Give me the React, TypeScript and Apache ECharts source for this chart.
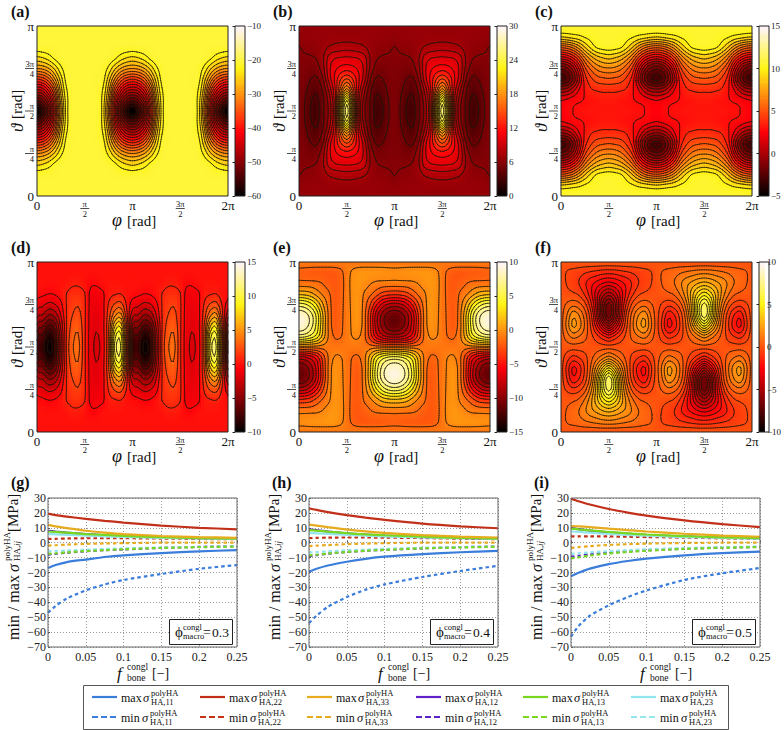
import React, { useEffect, useRef } from "react";
import * as echarts from "echarts";

const SERIF = "'Liberation Serif', serif";

// ---- contour maps: node tables, step pi/16, rows from theta = pi/2 outward, columns from phi = 0 ----
const tableA = [
  [-60, -57, -51, -41, -30.5, -22.5, -20.6, -20.5, -20.5],
  [-54, -52, -47, -39, -29, -22.5, -20.6, -20.5, -20.5],
  [-46, -45, -41, -35, -27, -22, -20.6, -20.5, -20.5],
  [-38, -37, -34.5, -30, -25, -21, -20.6, -20.5, -20.5],
  [-30, -29.5, -28, -25.5, -22.5, -20.8, -20.5, -20.5, -20.5],
  [-24.5, -24, -23, -21.5, -20.7, -20.5, -20.5, -20.5, -20.5],
  [-20.9, -20.8, -20.7, -20.6, -20.5, -20.5, -20.5, -20.5, -20.5],
  [-20.5, -20.5, -20.5, -20.5, -20.5, -20.5, -20.5, -20.5, -20.5],
  [-20.5, -20.5, -20.5, -20.5, -20.5, -20.5, -20.5, -20.5, -20.5],
];
const tableB = [
  [5.6, 4.7, 3.5, 3.0, 4.6, 6.2, 10, 20, 26],
  [5.6, 4.8, 3.7, 3.3, 4.6, 6.5, 10, 18, 24],
  [5.6, 5.1, 4.2, 3.9, 5.0, 7.4, 10.5, 15, 18.5],
  [5.6, 5.4, 4.8, 4.6, 5.9, 8.8, 11, 13.2, 14.5],
  [5.7, 5.6, 5.4, 5.5, 6.8, 9.2, 10.5, 11.2, 11.5],
  [5.85, 5.85, 5.9, 6.1, 7.0, 8.8, 9.5, 9.7, 9.8],
  [5.97, 6.2, 6.3, 6.4, 6.7, 7.3, 7.6, 7.8, 7.9],
  [6.3, 6.5, 6.5, 6.6, 6.6, 6.7, 6.7, 6.7, 6.7],
  [6.6, 6.6, 6.6, 6.6, 6.6, 6.6, 6.6, 6.6, 6.6],
];
const tableC = [
  [2.5, 2.65, 2.8, 2.95, 3.0, 3.1, 3.1, 3.1, 3.1],
  [2.0, 2.2, 2.5, 2.7, 2.85, 3.0, 3.1, 3.2, 3.2],
  [-0.2, 0, 0.8, 2.0, 2.9, 3.5, 3.7, 3.8, 3.8],
  [-3, -2.6, -1.2, 1.0, 3.2, 4.2, 4.8, 5, 5.1],
  [-1.8, -1.4, -0.1, 2.0, 4.2, 5.4, 6.2, 6.6, 6.7],
  [1.6, 1.9, 2.8, 4.2, 6.0, 7.2, 8, 8.4, 8.6],
  [5.4, 5.6, 6.2, 7.2, 8.4, 9.4, 10.1, 10.3, 10.4],
  [9.3, 9.4, 9.6, 9.8, 10.1, 10.3, 10.5, 10.55, 10.6],
  [10.6, 10.6, 10.6, 10.6, 10.6, 10.6, 10.6, 10.6, 10.6],
];
const tableD = [
  [-7.2, -7.8, -9.7, -8.6, -4, 0.9, 3.0, 3.4, 0.8, -1.2, -2.1, -1.2, 2.0, 9.5, 10.8, 3],
  [-6.4, -7.0, -8.9, -7.9, -3.6, 0.8, 2.8, 3.15, 0.8, -1.2, -1.95, -1.1, 1.9, 8.7, 10, 2.7],
  [-4.6, -5.3, -7, -6.2, -2.8, 0.7, 2.4, 2.7, 0.8, -1.1, -1.7, -1.0, 1.7, 6.6, 7.8, 2],
  [-2.7, -3.2, -4.4, -3.9, -1.8, 0.7, 1.9, 2.2, 0.8, -1.1, -1.5, -1.0, 1.2, 4, 4.9, 1.1],
  [-1.2, -1.6, -2.2, -1.9, -0.9, 0.7, 1.5, 1.7, 0.8, -1, -1.3, -0.9, 0.7, 2, 2.4, 0.5],
  [-0.2, -0.4, -0.6, -0.5, -0.1, 0.65, 1.1, 1.1, 0.65, -0.9, -1, -0.8, 0.2, 0.5, 0.6, 0.1],
  [0, 0, -0.1, -0.1, 0, 0.1, 0.4, 0.4, 0.1, -0.4, -0.45, -0.1, 0.05, 0.1, 0.1, 0],
  [0, 0, 0, 0, 0, 0, 0.05, 0.05, 0, -0.05, -0.05, 0, 0, 0, 0, 0],
  [0, 0, 0, 0, 0, 0, 0, 0, 0, 0, 0, 0, 0, 0, 0, 0],
];
const tableE = [
  [0, 0, 0, 0, 0, 0, 0, 0, 0],
  [-7, -6.8, -6, -4.7, -2.4, -0.3, 0.6, 0.55, 0],
  [-10, -9.5, -8.2, -6, -2.9, -0.2, 1, 0.7, 0],
  [-10, -9.5, -8.2, -6, -2.9, -0.2, 1.1, 0.75, 0],
  [-7, -6.7, -5.7, -4, -1.8, 0, 1.1, 0.8, 0],
  [-2.6, -2.5, -2.1, -1.2, -0.3, 0.35, 1.1, 0.85, 0],
  [0.12, 0.14, 0.17, 0.28, 0.55, 0.95, 1.2, 0.9, 0],
  [0.85, 0.9, 1, 1.05, 1.1, 1.15, 1.1, 0.75, 0],
  [0, 0, 0, 0, 0, 0, 0, 0, 0],
];
const tableF = [
  [0, 0, 0, 0, 0, 0, 0, 0, 0],
  [0, -0.6, -1.1, -0.9, -0.5, 0.1, 0.7, 1.3, 1.8],
  [0, -1.1, -2.2, -1.8, -0.8, 0.4, 1.9, 3.5, 4.6],
  [0, -0.9, -1.9, -1.5, -0.6, 0.7, 2.8, 5.2, 6.7],
  [0, -0.4, -0.7, -0.5, 0.1, 1.3, 3.1, 5.3, 6.5],
  [0, 0.1, 0.2, 0.4, 1.0, 1.9, 3.1, 4.2, 4.8],
  [0, 0.35, 0.6, 0.9, 1.4, 1.9, 2.3, 2.7, 2.9],
  [0, 0.35, 0.5, 0.65, 0.85, 1.0, 1.15, 1.3, 1.35],
  [0, 0, 0, 0, 0, 0, 0, 0, 0],
];

const seq = (a: number, b: number, s: number) => {
  const r: number[] = [];
  for (let v = a; v <= b + 1e-6; v += s) r.push(v);
  return r;
};
const offsetE = -1.1;
const levelsA = seq(-58, -22, 2);
const levelsB = seq(3.6, 25.2, 1.2);
const levelsC = seq(-2.8, 10, 0.8);
const levelsD = [...seq(-9.35, -0.6, 1.25), ...seq(0.6, 10.6, 1.25)];
const levelsE = [...seq(0.5, 9.7, 1.2).map((l) => -l), ...seq(0.5, 9.7, 1.2)].map((l) => l + offsetE);
const levelsF = [...seq(-6.3, -0.3, 0.6), ...seq(0.3, 6.3, 0.6)];

const mod = (a: number, n: number) => ((a % n) + n) % n;
const rowOf = (j: number) => {
  let d = Math.abs(j - 8);
  if (d > 8) d = 16 - d;
  return d;
};
const mirrored = (t: number[][]) => (i: number, j: number) => {
  let p = mod(i, 16);
  if (p > 8) p = 16 - p;
  return t[rowOf(j)][p];
};
const periodic = (t: number[][]) => (i: number, j: number) => t[rowOf(j)][mod(i, 16)];
const oddE = (t: number[][]) => (i: number, j: number) => {
  let s = j > 8 ? -1 : 1;
  let p = mod(i, 32);
  if (p > 16) p = 32 - p;
  if (p > 8) { p = 16 - p; s = -s; }
  return s * t[rowOf(j)][p] + offsetE;
};
const oddF = (t: number[][]) => (i: number, j: number) => {
  let s = j > 8 ? -1 : 1;
  let p = mod(i, 32);
  if (p >= 16) { p -= 16; s = -s; }
  if (p > 8) p = 16 - p;
  return s * t[rowOf(j)][p];
};

const cr = (a: number, b: number, c: number, d: number, t: number) =>
  0.5 * (2 * b + (c - a) * t + (2 * a - 5 * b + 4 * c - d) * t * t + (3 * b - a - 3 * c + d) * t * t * t);
const fieldOf = (node: (i: number, j: number) => number) => (x: number, y: number) => {
  const u = x * 16, v = y * 16;
  const i = Math.floor(u), j = Math.floor(v);
  const tu = u - i, tv = v - j;
  const col: number[] = [];
  for (let n = -1; n <= 2; n++) {
    col.push(cr(node(i + n, j - 1), node(i + n, j), node(i + n, j + 1), node(i + n, j + 2), tv));
  }
  return cr(col[0], col[1], col[2], col[3], tu);
};

const heat = [
  { id: "a", node: mirrored(tableA), levels: levelsA, min: -60, max: -10, step: 10, left: 37, top: 26 },
  { id: "b", node: mirrored(tableB), levels: levelsB, min: 0, max: 30, step: 6, left: 299, top: 26 },
  { id: "c", node: mirrored(tableC), levels: levelsC, min: -5, max: 15, step: 5, left: 561, top: 26 },
  { id: "d", node: periodic(tableD), levels: levelsD, min: -10, max: 15, step: 5, left: 37, top: 262 },
  { id: "e", node: oddE(tableE), levels: levelsE, min: -15, max: 10, step: 5, left: 299, top: 262 },
  { id: "f", node: oddF(tableF), levels: levelsF, min: -10, max: 10, step: 5, left: 561, top: 262 },
];

// ---- line panels ----
const fBone = [0, 0.01, 0.025, 0.05, 0.075, 0.1, 0.15, 0.2, 0.25];
const gMax11 = [-17, -15, -13, -11.3, -9.6, -8.5, -7, -5.8, -5];
const gMin11 = [-47, -42.5, -37.5, -32, -28, -25, -21, -17.5, -15];
const gMax22 = [19.5, 18.5, 17.5, 16, 14.7, 13.5, 11.5, 10, 9];
const gMin22 = [2.5, 2.6, 2.8, 3, 3, 3, 2.8, 2.5, 2.3];
const gMax33 = [12, 11, 9.8, 8, 6.8, 5.8, 4.5, 3.8, 3.2];
const gMin33 = [-2, -1.7, -1.3, -0.8, -0.5, -0.3, 0, 0, 0];
const gMax12 = [8, 7.5, 6.8, 5.8, 5, 4.5, 3.5, 3, 2.5];
const gMin12 = [-8, -7.5, -6.7, -5.7, -5, -4.5, -3.5, -2.8, -2.4];
const gMax13 = [7.5, 7.2, 6.7, 5.8, 5.2, 4.6, 3.7, 3.1, 2.7];
const gMin13 = [-7.5, -7.2, -6.5, -5.6, -5, -4.4, -3.5, -3, -2.6];
const gMax23 = [5.8, 5.6, 5.3, 4.8, 4.3, 3.9, 3.3, 2.9, 2.5];
const gMin23 = [-5.8, -5.6, -5.2, -4.7, -4.2, -3.8, -3.2, -2.8, -2.4];

const hMax11 = [-19.5, -17.5, -15.3, -12.8, -10.8, -9.4, -7.7, -6.4, -5.5];
const hMin11 = [-54, -49, -43, -36.5, -31.5, -28, -23, -19, -15.5];
const hMax22 = [23, 22, 20.5, 18.5, 16.8, 15.3, 12.8, 11, 9.7];
const hMin22 = [3.1, 3.2, 3.4, 3.5, 3.5, 3.4, 3.1, 2.7, 2.4];
const hMax33 = [12.2, 11.5, 10.4, 8.8, 7.6, 6.6, 5.1, 4.1, 3.5];
const hMin33 = [-2.3, -2, -1.6, -1, -0.6, -0.3, 0, 0, 0];
const hMax12 = [9, 8.4, 7.5, 6.3, 5.5, 4.8, 3.8, 3.2, 2.7];
const hMin12 = [-9, -8.4, -7.4, -6.2, -5.4, -4.8, -3.8, -3, -2.6];
const hMax13 = [8.5, 8.1, 7.4, 6.4, 5.6, 5, 4, 3.3, 2.8];
const hMin13 = [-8.5, -8.1, -7.3, -6.2, -5.4, -4.8, -3.8, -3.2, -2.7];
const hMax23 = [6.5, 6.3, 5.9, 5.3, 4.7, 4.2, 3.5, 3, 2.6];
const hMin23 = [-6.5, -6.3, -5.8, -5.1, -4.6, -4.1, -3.4, -2.9, -2.5];

const iMax11 = [-22.5, -20.2, -17.4, -14.4, -12.3, -10.7, -8.5, -7, -6];
const iMin11 = [-63, -56, -49, -42, -36.5, -32, -25, -20.5, -17];
const iMax22 = [29.5, 27.8, 25.6, 22.6, 20.2, 18.2, 15, 12.5, 10.5];
const iMin22 = [4.3, 4.3, 4.3, 4.2, 4, 3.8, 3.4, 2.9, 2.5];
const iMax33 = [11.2, 11, 10.5, 9.5, 8.5, 7.5, 6, 4.8, 4];
const iMin33 = [-3.5, -3, -2.3, -1.5, -1, -0.6, -0.2, 0, 0];
const iMax12 = [10, 9.1, 8.1, 6.9, 6, 5.2, 4.2, 3.5, 3];
const iMin12 = [-9.5, -8.8, -7.8, -6.7, -5.8, -5.1, -4, -3.3, -2.8];
const iMax13 = [9.5, 9, 8.3, 7.2, 6.3, 5.5, 4.4, 3.6, 3];
const iMin13 = [-10.5, -9.8, -8.6, -7.2, -6.2, -5.4, -4.2, -3.4, -2.9];
const iMax23 = [7.5, 7.2, 6.7, 5.9, 5.2, 4.7, 3.8, 3.2, 2.7];
const iMin23 = [-7.5, -7.1, -6.5, -5.7, -5, -4.4, -3.6, -3, -2.6];

const BLUE = "#3b7ddb", RED = "#c2301a", YELLOW = "#e6ab1e", PURPLE = "#5f1fc9", GREEN = "#77d81f", CYAN = "#93e5ee";
const colours = [BLUE, RED, YELLOW, PURPLE, GREEN, CYAN];
const indexNames = ["11", "22", "33", "12", "13", "23"];

const lineSets = [
  { id: "g", phi: "0.3", left: 48, max: [gMax11, gMax22, gMax33, gMax12, gMax13, gMax23], min: [gMin11, gMin22, gMin33, gMin12, gMin13, gMin23] },
  { id: "h", phi: "0.4", left: 309, max: [hMax11, hMax22, hMax33, hMax12, hMax13, hMax23], min: [hMin11, hMin22, hMin33, hMin12, hMin13, hMin23] },
  { id: "i", phi: "0.5", left: 571, max: [iMax11, iMax22, iMax33, iMax12, iMax13, iMax23], min: [iMin11, iMin22, iMin33, iMin12, iMin13, iMin23] },
];

const phiTicks = ["{m|0}", "{n|π}\n{b| }\n{s|2}", "{m|π}", "{n|3π}\n{b| }\n{s|2}", "{m|2π}"];
const thetaTicks = ["{m|0}", "{n|π}\n{b| }\n{s|4}", "{n|π}\n{b| }\n{s|2}", "{n|3π}\n{b| }\n{s|4}", "{m|π}"];
const fracRich = {
  m: { fontSize: 13, fontFamily: SERIF, color: "#111" },
  n: { fontSize: 8.5, lineHeight: 9, fontFamily: SERIF, color: "#111" },
  b: { fontSize: 1, lineHeight: 1, height: 0.8, width: 9, backgroundColor: "#222" },
  s: { fontSize: 8.5, lineHeight: 9, fontFamily: SERIF, color: "#111" },
};

const hot = (t: number) => {
  const c = Math.max(0, Math.min(1, t));
  const r = Math.min(1, c / 0.375);
  const g = c < 0.375 ? 0 : Math.min(1, (c - 0.375) / 0.375);
  const b = c < 0.75 ? 0.1 * c : 0.075 + ((c - 0.75) / 0.25) * 0.925;
  const h = (v: number) => Math.round(v * 255).toString(16).padStart(2, "0");
  return "#" + h(r) + h(g * 0.96) + h(b);
};

function contourSegments(f: (x: number, y: number) => number, level: number) {
  const nx = 84, ny = 72;
  const L = level + 1e-5;
  const segs: number[][] = [];
  const val: number[][] = [];
  for (let j = 0; j <= ny; j++) {
    const r: number[] = [];
    for (let i = 0; i <= nx; i++) r.push(f((i / nx) * 2, j / ny));
    val.push(r);
  }
  for (let j = 0; j < ny; j++) {
    for (let i = 0; i < nx; i++) {
      const a = val[j][i], b = val[j][i + 1], c = val[j + 1][i + 1], d = val[j + 1][i];
      const pts: number[][] = [];
      const X = (k: number) => (k / nx) * 2, Y = (k: number) => k / ny;
      if (a < L !== b < L) pts.push([X(i + (L - a) / (b - a)), Y(j)]);
      if (b < L !== c < L) pts.push([X(i + 1), Y(j + (L - b) / (c - b))]);
      if (d < L !== c < L) pts.push([X(i + (L - d) / (c - d)), Y(j + 1)]);
      if (a < L !== d < L) pts.push([X(i), Y(j + (L - a) / (d - a))]);
      if (pts.length === 2) segs.push([pts[0][0], pts[0][1], pts[1][0], pts[1][1]]);
      else if (pts.length === 4) {
        segs.push([pts[0][0], pts[0][1], pts[3][0], pts[3][1]]);
        segs.push([pts[1][0], pts[1][1], pts[2][0], pts[2][1]]);
      }
    }
  }
  return segs;
}

const txt = (x: number, y: number, text: string, size: number, o: any = {}) => ({
  type: "text",
  x,
  y,
  z: 120,
  silent: true,
  style: {
    text,
    fontFamily: SERIF,
    fontSize: size,
    fontStyle: o.italic ? "italic" : "normal",
    fontWeight: o.bold ? "bold" : "normal",
    fill: o.fill || "#111",
    textAlign: o.align || "left",
    textVerticalAlign: "middle",
  },
});
const frame = (x: number, y: number, w: number, h: number, stroke = "#222", fill = "none") => ({
  type: "rect",
  z: 110,
  silent: true,
  shape: { x: x + 0.5, y: y + 0.5, width: w, height: h },
  style: { stroke, fill, lineWidth: 1 },
});

function buildOption() {
  const grid: any[] = [], xAxis: any[] = [], yAxis: any[] = [], series: any[] = [], graphic: any[] = [];
  const PW = 191, PH = 170;

  heat.forEach((p) => {
    const f = fieldOf(p.node);
    const g = grid.length;
    grid.push({ left: p.left, top: p.top, width: PW, height: PH });
    xAxis.push({
      gridIndex: g, type: "value", min: 0, max: 2, interval: 0.5,
      axisLine: { show: false }, axisTick: { show: false }, splitLine: { show: false },
      axisLabel: { margin: 3, showMinLabel: true, showMaxLabel: true, verticalAlign: "top", formatter: (v: number) => phiTicks[Math.round(v * 2)], rich: fracRich },
    });
    yAxis.push({
      gridIndex: g, type: "value", min: 0, max: 1, interval: 0.25,
      axisLine: { show: false }, axisTick: { show: false }, splitLine: { show: false },
      axisLabel: { margin: 3, showMinLabel: true, showMaxLabel: true, formatter: (v: number) => thetaTicks[Math.round(v * 4)], rich: fracRich },
    });
    const nx = 64, ny = 57;
    const cells: number[][] = [];
    for (let j = 0; j < ny; j++) for (let i = 0; i < nx; i++) {
      cells.push([(i / nx) * 2, j / ny, f(((i + 0.5) / nx) * 2, (j + 0.5) / ny)]);
    }
    const span = p.max - p.min;
    series.push({
      type: "custom", name: "map " + p.id, xAxisIndex: g, yAxisIndex: g, silent: true, progressive: 0, z: 2, data: cells,
      renderItem: (_: any, api: any) => {
        const a = api.coord([api.value(0), api.value(1)]);
        const b = api.coord([api.value(0) + 2 / nx, api.value(1) + 1 / ny]);
        const x = Math.floor(a[0]), y = Math.floor(b[1]);
        return {
          type: "rect",
          shape: { x, y, width: Math.ceil(b[0]) - x, height: Math.ceil(a[1]) - y },
          style: { fill: hot((api.value(2) - p.min) / span) },
        };
      },
    });
    const lines = p.levels.map((l: number) => contourSegments(f, l));
    series.push({
      type: "custom", name: "contours " + p.id, xAxisIndex: g, yAxisIndex: g, silent: true, progressive: 0, z: 3,
      data: p.levels.map((l: number, k: number) => [k, l]),
      renderItem: (_: any, api: any) => {
        const segs = lines[api.value(0)];
        if (!segs.length) return null;
        let d = "";
        let x0 = 1e9, y0 = 1e9, x1 = -1e9, y1 = -1e9;
        segs.forEach((s: number[]) => {
          const A = api.coord([s[0], s[1]]), B = api.coord([s[2], s[3]]);
          d += `M${A[0].toFixed(2)} ${A[1].toFixed(2)}L${B[0].toFixed(2)} ${B[1].toFixed(2)}`;
          x0 = Math.min(x0, A[0], B[0]); x1 = Math.max(x1, A[0], B[0]);
          y0 = Math.min(y0, A[1], B[1]); y1 = Math.max(y1, A[1], B[1]);
        });
        return {
          type: "path",
          shape: { pathData: d, layout: "cover", x: x0, y: y0, width: x1 - x0, height: y1 - y0 },
          style: { fill: "none", stroke: "#1c1608", lineWidth: 0.75, lineCap: "round" },
        };
      },
    });
    // colour bar
    const cb = grid.length;
    const cbLeft = p.left + 198;
    grid.push({ left: cbLeft, top: p.top, width: 10, height: PH });
    xAxis.push({ gridIndex: cb, type: "value", min: 0, max: 1, show: false });
    yAxis.push({
      gridIndex: cb, type: "value", position: "right", min: p.min, max: p.max, interval: p.step,
      axisLine: { show: false }, splitLine: { show: false },
      axisTick: { show: true, inside: true, length: 2.5, lineStyle: { color: "#222" } },
      axisLabel: { margin: 2, fontSize: 9, fontFamily: SERIF, color: "#222", showMinLabel: true, showMaxLabel: true, formatter: (v: number) => (v < 0 ? "−" + -v : String(v)) },
    });
    const steps: number[][] = [];
    for (let k = 0; k < 85; k++) steps.push([0, p.min + (k / 85) * span, p.min + ((k + 0.5) / 85) * span]);
    series.push({
      type: "custom", name: "bar " + p.id, xAxisIndex: cb, yAxisIndex: cb, silent: true, progressive: 0, z: 2, data: steps,
      renderItem: (_: any, api: any) => {
        const a = api.coord([0, api.value(1)]);
        const b = api.coord([1, api.value(1) + span / 85]);
        const y = Math.floor(b[1]);
        return {
          type: "rect",
          shape: { x: a[0], y, width: b[0] - a[0], height: Math.ceil(a[1]) - y },
          style: { fill: hot((api.value(2) - p.min) / span) },
        };
      },
    });
    graphic.push(frame(p.left - 0.5, p.top - 0.5, PW, PH));
    graphic.push(frame(cbLeft - 0.5, p.top - 0.5, 10, PH));
    graphic.push(txt(p.left - 26, p.top - 15, `(${p.id})`, 16, { bold: true }));
    const ly = p.top + 194;
    graphic.push(txt(p.left + 75, ly, "φ", 18, { italic: true }));
    graphic.push(txt(p.left + 90, ly + 1, "[rad]", 15));
    graphic.push({
      type: "group", x: p.left - 20, y: p.top + 106, rotation: Math.PI / 2, z: 120,
      children: [txt(0, 0, "ϑ", 17, { italic: true }), txt(13, 0, "[rad]", 15)],
    });
  });

  lineSets.forEach((p) => {
    const g = grid.length;
    const T = 498, H = 149, W = 189;
    grid.push({ left: p.left, top: T, width: W, height: H });
    xAxis.push({
      gridIndex: g, type: "value", min: 0, max: 0.25, interval: 0.05,
      axisLine: { show: false }, axisTick: { show: true, inside: true, length: 2, lineStyle: { color: "#555" } },
      splitLine: { show: true, lineStyle: { type: [1, 2], color: "#999" } },
      axisLabel: { margin: 4, fontSize: 12, fontFamily: SERIF, color: "#222", showMinLabel: true, showMaxLabel: true, formatter: (v: number) => String(+v.toFixed(2)) },
    });
    yAxis.push({
      gridIndex: g, type: "value", min: -70, max: 30, interval: 10,
      axisLine: { show: false }, axisTick: { show: true, inside: true, length: 2, lineStyle: { color: "#555" } },
      splitLine: { show: true, lineStyle: { type: [1, 2], color: "#999" } },
      axisLabel: { margin: 2, fontSize: 12, fontFamily: SERIF, color: "#222", showMinLabel: true, showMaxLabel: true, formatter: (v: number) => (v < 0 ? "−" + -v : String(v)) },
    });
    const order = [3, 0, 1, 5, 4, 2];
    order.forEach((k) => {
      series.push({
        type: "line", name: `${p.id} min ${indexNames[k]}`, xAxisIndex: g, yAxisIndex: g, showSymbol: false, smooth: 0.25, silent: true, z: 3,
        data: fBone.map((x, n) => [x, p.min[k][n]]),
        lineStyle: { color: colours[k], width: 2.2, type: [3.5, 3] },
      });
      series.push({
        type: "line", name: `${p.id} max ${indexNames[k]}`, xAxisIndex: g, yAxisIndex: g, showSymbol: false, smooth: 0.25, silent: true, z: 4,
        data: fBone.map((x, n) => [x, p.max[k][n]]),
        lineStyle: { color: colours[k], width: 2.2 },
      });
    });
    graphic.push(frame(p.left - 0.5, T - 0.5, W, H, "#666"));
    graphic.push(txt(p.left - 37, 482, `(${p.id})`, 16, { bold: true }));
    // y label
    graphic.push({
      type: "group", x: p.left - 35, y: 641, rotation: Math.PI / 2, z: 120,
      children: [
        txt(1, 0, "min / max", 16),
        txt(69, 0, "σ", 16, { italic: true }),
        txt(80, -6, "polyHA", 9),
        txt(80, 4, "HA,", 9),
        txt(95, 4, "ij", 9, { italic: true }),
        txt(109, 0, "[MPa]", 15),
      ],
    });
    // x label
    graphic.push(txt(p.left + 69, 673, "f", 17, { italic: true }));
    graphic.push(txt(p.left + 79, 667, "congl", 9.5));
    graphic.push(txt(p.left + 79, 678, "bone", 9.5));
    graphic.push(txt(p.left + 104, 673, "[−]", 14));
    // annotation box
    graphic.push(frame(p.left + 121, 619, 63, 25, "#222", "#fff"));
    graphic.push(txt(p.left + 127, 632, "ϕ", 15));
    graphic.push(txt(p.left + 135, 627, "congl", 8.5));
    graphic.push(txt(p.left + 135, 636, "macro", 8.5));
    graphic.push(txt(p.left + 155, 632, "=", 14));
    graphic.push(txt(p.left + 164, 632, p.phi, 13.5));
  });

  // legend
  graphic.push(frame(83, 685, 645, 44, "#555", "#fff"));
  const lineX = [92, 200, 307, 416, 523, 631];
  lineX.forEach((x, k) => {
    [0, 1].forEach((r) => {
      const y = r === 0 ? 697 : 717;
      graphic.push({
        type: "line", z: 120, silent: true,
        shape: { x1: x, y1: y, x2: x + 25, y2: y },
        style: { stroke: colours[k], lineWidth: 2.2, lineDash: r === 0 ? null : [6, 3] },
      });
      const tx = x + 29;
      const off = r === 0 ? 0 : -1;
      graphic.push(txt(tx, y + 1, r === 0 ? "max" : "min", 12));
      graphic.push(txt(tx + 22 + off, y + 1, "σ", 12.5, { italic: true }));
      graphic.push(txt(tx + 30 + off, y - 4, "polyHA", 8.5));
      graphic.push(txt(tx + 30 + off, y + 5, "HA," + indexNames[k], 8.5));
    });
  });

  return { animation: false, backgroundColor: "#fff", grid, xAxis, yAxis, series, graphic };
}

export default function App() {
  const ref = useRef<HTMLDivElement>(null);
  useEffect(() => {
    document.body.style.margin = "0";
    const chart = echarts.init(ref.current!, undefined, { renderer: "svg" });
    chart.setOption(buildOption() as any);
    return () => chart.dispose();
  }, []);
  return <div ref={ref} style={{ width: 784, height: 730 }} />;
}
